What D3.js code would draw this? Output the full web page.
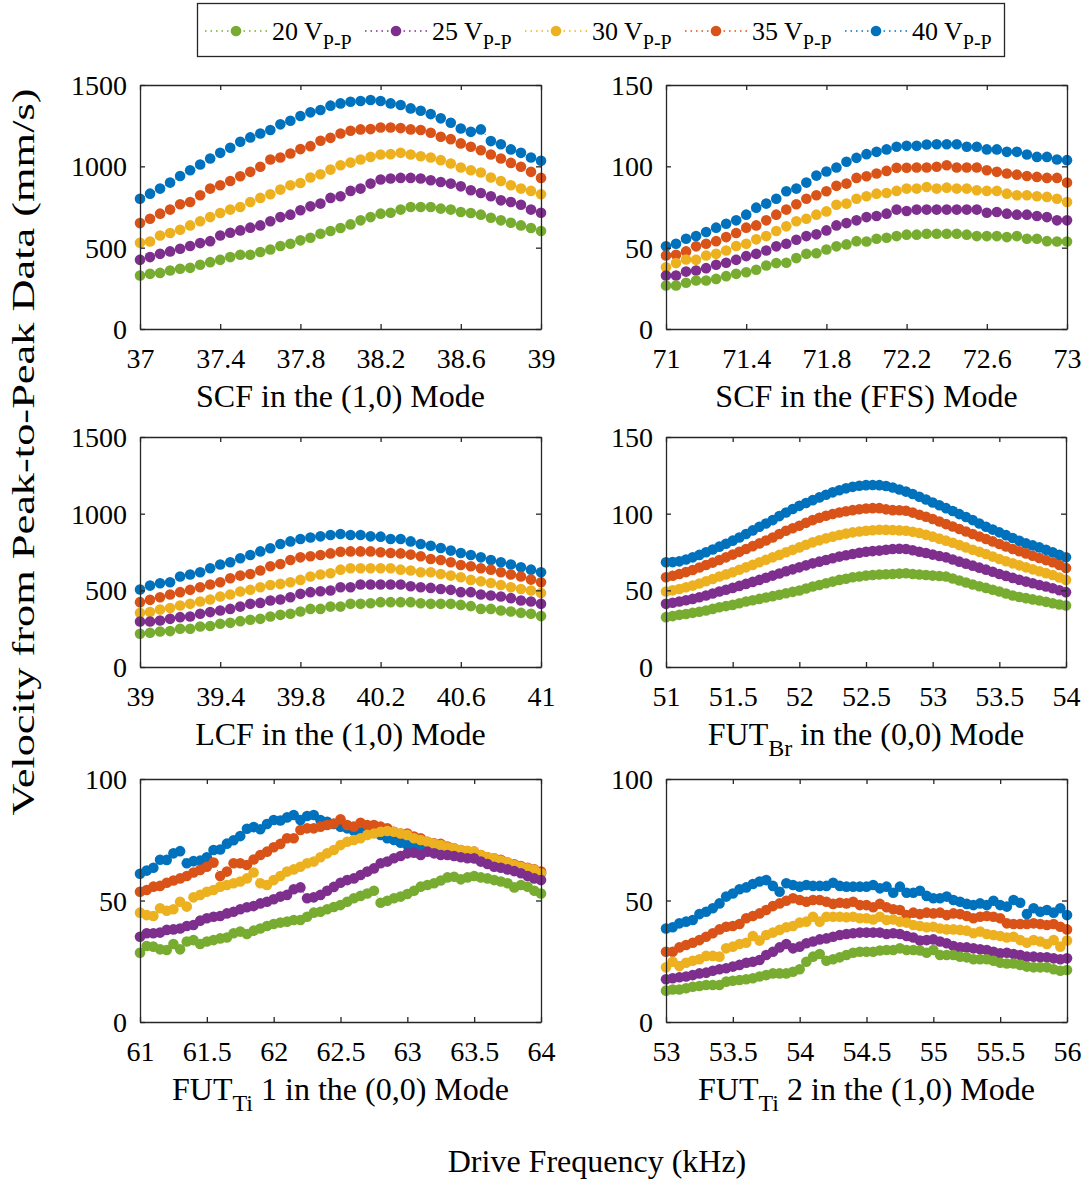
<!DOCTYPE html>
<html>
<head>
<meta charset="utf-8">
<script src="https://cdn.jsdelivr.net/npm/d3@7"></script>
<style>
  body { margin: 0; background: #fff; }
  text { font-family: "Liberation Serif", "Times New Roman", serif; fill: #000; }
</style>
</head>
<body>
<div id="viz"></div>
<script>
const width = 1085, height = 1182;

// series (drive amplitude) and MATLAB default colours
const voltages = ["20", "25", "30", "35", "40"];
const colors = ["#77AC30", "#7E2F8E", "#EDB120", "#D95319", "#0072BD"];

// frequency sweep grids, kHz
const scf10Freq = d3.range(41).map(i => 37 + i * 0.05);
const scfFfsFreq = d3.range(41).map(i => 71 + i * 0.05);
const lcf10Freq = d3.range(41).map(i => 39 + i * 0.05);
const futBrFreq = d3.range(61).map(i => 51 + i * 0.05);
const futTi1Freq = d3.range(61).map(i => 61 + i * 0.05);
const futTi2Freq = d3.range(61).map(i => 53 + i * 0.05);

// SCF (1,0) mode, mm/s
const scf10_20 = [329,339,345,360,370,376,395,411,425,442,456,456,473,489,510,524,545,561,586,602,621,643,668,688,709,715,734,750,750,750,740,734,719,713,703,684,668,653,637,621,602];
const scf10_25 = [425,442,462,477,493,510,528,540,575,592,606,623,637,662,688,703,730,754,771,806,816,849,863,894,919,925,929,929,925,914,904,894,877,853,836,816,791,781,764,734,715];
const scf10_30 = [530,538,575,590,610,637,662,688,713,734,750,781,806,828,857,884,898,931,951,980,1007,1023,1042,1058,1073,1075,1083,1073,1062,1054,1038,1017,993,976,962,931,910,884,863,849,828];
const scf10_35 = [651,678,709,734,767,781,822,863,884,910,939,966,997,1042,1054,1079,1106,1124,1157,1175,1202,1219,1227,1229,1239,1239,1235,1227,1223,1206,1182,1167,1141,1120,1099,1073,1048,1021,997,966,929];
const scf10_40 = [801,832,863,900,941,976,1011,1048,1083,1114,1151,1178,1202,1223,1258,1280,1309,1332,1346,1373,1387,1397,1402,1408,1402,1387,1377,1356,1342,1321,1295,1268,1233,1212,1227,1155,1136,1104,1083,1054,1034];

// SCF (FFS) mode
const scfFfs_20 = [26.7,26.7,28.4,29.8,29.8,30.8,32.5,33.9,34.9,36.4,39.0,40.5,40.7,43.6,46.2,46.6,48.9,50.8,52.0,54.0,53.8,55.5,56.1,57.1,58.0,58.0,58.6,58.6,58.6,58.6,58.0,57.1,57.1,57.1,56.5,57.1,55.5,55.5,54.0,53.8,53.8];
const scfFfs_25 = [32.9,32.9,35.3,36.0,37.4,39.5,40.7,42.5,44.8,46.2,48.3,50.8,52.4,54.9,57.1,58.2,60.6,63.7,65.1,66.8,68.8,69.5,70.9,73.4,72.5,73.4,73.4,73.4,73.4,73.4,73.4,73.4,71.5,71.9,70.9,70.3,70.3,69.5,68.8,66.8,66.8];
const scfFfs_30 = [38.0,40.5,42.7,42.5,45.2,46.2,48.3,51.0,52.4,55.1,57.1,60.2,63.1,66.2,67.8,70.3,72.3,76.4,77.1,80.1,81.6,83.2,83.6,84.9,86.3,86.3,87.3,86.3,86.9,86.3,86.3,85.3,84.9,84.9,83.2,82.2,82.2,81.6,81.2,80.1,78.1];
const scfFfs_35 = [45.2,45.6,47.7,50.8,52.4,54.0,56.5,59.0,62.3,63.7,66.8,70.3,73.4,76.7,80.1,82.2,84.7,88.0,89.4,92.9,93.9,95.6,97.2,99.1,99.1,99.3,99.3,99.7,100.7,99.3,99.3,99.3,97.6,96.6,95.6,94.9,94.1,93.5,92.9,92.9,90.0];
const scfFfs_40 = [50.8,52.4,55.5,57.1,59.6,62.3,64.7,66.8,70.3,74.6,77.1,80.1,84.7,86.3,90.0,94.3,96.8,99.3,102.8,105.2,107.5,108.9,110.4,112.0,112.6,112.6,113.4,113.6,113.6,113.6,112.0,112.0,110.4,110.4,108.9,108.9,107.3,105.8,105.8,104.2,103.8];

// LCF (1,0) mode
const lcf10_20 = [217,223,232,234,249,249,264,267,282,288,299,308,314,329,340,347,362,379,379,394,394,412,412,416,423,423,423,423,416,412,412,412,405,397,379,379,368,362,353,347,332];
const lcf10_25 = [297,297,303,314,325,329,347,358,368,379,394,412,418,434,440,455,477,488,494,499,520,520,538,538,538,538,538,527,520,516,509,503,488,488,473,466,460,449,434,427,412];
const lcf10_30 = [353,358,375,384,401,412,427,440,460,473,492,503,520,535,542,553,568,590,603,611,635,644,644,644,644,644,635,629,618,618,607,596,585,568,559,548,535,520,509,499,483];
const lcf10_35 = [423,438,455,473,488,503,520,538,553,579,596,607,629,657,672,698,715,722,730,741,752,754,754,754,748,743,741,733,722,704,698,683,665,657,644,635,618,603,590,570,553];
const lcf10_40 = [505,531,546,553,590,603,618,644,668,683,709,730,754,774,802,819,835,845,852,861,867,861,861,852,850,835,835,819,802,791,776,759,743,730,715,698,683,668,650,635,618];

// FUT_Br (0,0) mode
const futBr_20 = [32.5,33.2,34.0,34.6,35.3,36.0,36.8,37.9,39.0,39.7,40.5,41.6,42.7,43.5,44.4,45.3,46.2,47.1,48.1,49.0,49.9,51.2,52.5,53.5,54.6,55.7,56.8,57.6,58.5,59.0,59.6,60.0,60.3,60.5,60.7,60.9,61.1,60.7,60.3,60.0,59.6,59.3,59.0,57.7,56.4,55.1,53.8,52.7,51.6,50.4,49.2,47.9,46.6,45.7,44.9,44.1,43.4,42.5,41.6,40.8,40.1];
const futBr_25 = [41.2,41.9,42.7,43.5,44.4,45.5,46.6,47.9,49.2,50.4,51.6,52.9,54.2,55.5,56.8,58.2,59.6,61.0,62.4,63.7,65.0,66.3,67.6,68.7,69.8,70.9,72.0,72.9,73.7,74.5,75.2,75.6,75.9,76.5,77.0,77.1,77.0,76.1,75.2,74.3,73.3,72.4,71.5,70.1,68.7,67.4,66.1,64.8,63.5,62.1,60.7,59.4,58.1,56.9,55.7,54.6,53.5,52.5,51.4,50.1,48.8];
const futBr_30 = [49.2,50.0,50.9,52.0,53.1,54.5,55.9,57.4,59.0,60.4,61.8,63.4,65.0,66.6,68.3,69.9,71.5,73.1,74.8,76.4,78.0,79.7,81.3,82.6,83.9,85.0,86.1,87.0,87.8,88.4,88.9,89.2,89.5,89.4,89.3,89.1,88.9,88.2,87.4,86.2,85.0,83.7,82.4,81.0,79.5,78.0,76.5,75.1,73.7,72.0,70.4,69.0,67.6,66.3,65.0,63.7,62.4,61.2,60.0,58.4,56.8];
const futBr_35 = [58.5,59.5,60.7,61.9,63.3,64.9,66.5,68.1,69.8,71.5,73.3,75.1,77.0,78.8,80.6,82.5,84.5,86.7,88.9,90.5,92.1,94.0,95.8,97.3,98.6,99.8,100.8,101.6,102.3,102.9,103.4,103.6,103.6,102.8,102.3,102.2,101.9,100.7,99.3,98.0,96.5,94.9,93.2,91.6,90.0,88.4,86.7,85.1,83.5,81.9,80.2,78.6,77.0,75.5,74.1,72.6,71.1,69.7,68.3,66.5,64.6];
const futBr_40 = [68.3,68.4,68.9,70.1,71.5,73.1,74.8,76.6,78.5,80.4,82.4,84.5,86.7,89.1,91.5,93.6,95.8,98.4,100.8,103.0,105.1,107.0,108.8,110.6,112.3,113.9,115.3,116.5,117.5,118.2,118.6,118.7,118.6,118.0,117.1,115.8,114.4,112.8,111.0,109.2,107.3,105.5,103.6,101.7,99.7,97.8,95.8,93.6,91.5,89.6,87.8,86.0,84.1,82.3,80.6,79.3,78.0,76.4,74.8,73.1,71.5];

// FUT_Ti 1, (0,0) mode
const futTi1_20 = [28.5,31.3,31.0,29.9,29.6,32.1,29.9,33.1,33.7,32.1,33.1,33.7,34.4,34.8,36.5,37.2,36.2,37.6,38.5,39.5,40.3,40.9,41.3,42.0,42.0,43.3,45.0,45.4,46.4,47.3,48.1,49.5,50.9,51.9,52.9,54.0,49.1,49.9,50.9,51.6,52.7,54.0,55.7,56.4,57.1,58.2,59.5,59.8,58.7,59.5,60.1,59.5,59.1,58.4,57.8,57.1,55.4,56.4,55.7,54.0,52.9];
const futTi1_25 = [35.1,36.5,36.5,36.8,37.9,38.1,38.5,39.5,39.9,41.7,42.7,43.3,43.6,44.7,45.4,46.4,47.2,47.7,48.8,49.5,50.5,51.6,52.3,54.6,55.4,50.9,51.3,52.3,54.0,55.6,57.3,58.4,59.1,60.5,61.9,63.2,65.3,66.0,67.4,68.3,69.4,69.7,68.7,70.1,69.4,68.7,68.7,68.3,67.8,67.4,67.4,66.0,65.0,63.9,63.5,62.8,62.1,61.2,60.1,59.1,58.4];
const futTi1_30 = [45.0,44.0,43.6,46.8,45.8,46.4,49.5,47.5,51.3,52.3,53.6,54.3,55.7,56.4,57.1,57.8,59.1,61.5,57.1,56.4,58.4,60.1,61.9,62.8,63.9,65.3,66.0,67.8,69.4,70.8,72.8,74.2,74.9,75.6,77.0,77.6,78.3,78.6,78.3,77.6,77.0,75.6,74.9,74.2,73.3,72.8,71.9,71.5,70.8,70.5,70.1,68.7,67.8,67.4,66.4,65.6,64.6,63.9,63.2,62.6,61.2];
const futTi1_35 = [53.6,54.3,55.7,56.0,57.3,58.2,59.1,60.1,61.5,62.6,63.9,65.6,60.1,61.9,65.3,65.3,64.6,66.9,68.7,70.1,71.9,73.3,75.6,75.6,79.0,79.7,79.7,80.4,81.1,81.7,83.4,81.1,80.4,82.0,81.1,81.1,80.4,79.7,78.3,77.6,77.6,76.3,75.6,74.2,73.5,73.3,72.2,71.5,70.8,70.1,70.1,68.7,67.8,67.4,66.7,65.6,64.9,64.2,63.5,62.8,61.9];
const futTi1_40 = [61.0,62.3,63.5,66.8,66.7,69.4,70.3,65.3,66.2,66.4,67.8,70.8,71.0,73.4,74.8,76.5,79.5,80.2,79.3,81.5,83.1,82.9,84.2,85.2,83.1,84.8,85.2,83.1,82.4,81.5,80.4,79.7,78.7,78.3,78.7,78.6,77.0,75.6,74.9,73.8,72.8,71.9,71.1,70.5,70.1,69.7,69.1,68.7,68.3,67.8,67.4,66.7,66.0,65.3,64.9,64.3,63.6,63.0,62.6,61.9,61.2];

// FUT_Ti 2, (1,0) mode
const futTi2_20 = [12.9,13.4,13.4,13.9,14.5,14.8,15.2,15.2,15.2,16.6,17.0,17.3,17.6,18.0,18.7,19.3,20.0,20.0,20.0,20.7,21.7,24.8,26.9,28.0,25.2,25.8,26.6,27.6,28.5,28.9,28.9,28.9,29.4,29.6,29.6,30.3,29.6,29.6,29.4,28.5,29.6,27.6,27.6,27.6,26.9,26.6,25.8,25.8,25.8,25.2,24.4,24.1,24.1,23.5,22.8,22.5,22.5,22.5,21.7,21.1,21.4];
const futTi2_25 = [17.6,18.0,18.4,18.7,19.3,20.0,20.3,21.1,21.7,22.1,22.8,23.5,24.4,24.8,25.5,27.6,28.9,30.7,32.1,30.3,31.0,32.4,33.1,34.0,34.4,35.1,35.8,36.2,36.5,36.8,36.8,36.8,36.8,36.2,36.5,36.2,35.4,34.8,33.5,33.7,34.0,33.1,32.4,31.3,30.7,30.7,30.3,29.9,29.6,28.9,28.3,28.5,28.0,27.6,26.9,26.9,26.6,26.6,26.2,25.8,26.2];
const futTi2_30 = [22.5,24.8,23.0,24.4,25.2,25.8,27.2,27.2,26.9,30.3,31.0,32.1,32.6,35.4,33.5,35.8,36.8,37.9,39.0,39.5,40.9,41.3,43.3,41.3,43.3,43.3,43.3,43.1,43.3,42.7,42.7,42.2,43.3,42.0,42.2,41.3,40.9,39.9,39.5,39.0,39.2,38.5,38.1,38.1,37.9,37.6,36.5,37.2,36.2,35.8,35.4,34.8,35.1,33.7,32.6,33.7,33.1,32.1,33.7,31.0,33.5];
const futTi2_35 = [28.9,28.9,30.7,31.7,32.6,33.7,35.1,36.5,38.1,39.2,39.5,40.3,42.7,43.6,44.7,46.1,47.7,48.8,49.9,50.9,50.2,49.5,50.2,50.2,49.5,48.6,49.1,48.8,49.5,48.1,48.1,47.2,48.6,47.2,46.4,46.1,44.0,45.0,44.4,45.0,44.7,45.0,44.0,44.7,44.4,43.6,42.7,43.3,43.6,43.3,42.7,40.6,40.3,40.3,40.3,40.6,40.3,39.9,40.3,39.2,38.1];
const futTi2_40 = [38.5,39.0,40.6,41.3,42.0,44.4,45.4,46.8,48.8,51.6,52.9,54.6,55.4,56.8,57.8,58.4,56.0,53.6,57.1,56.4,55.7,56.4,56.0,56.0,56.0,57.3,56.0,55.7,55.7,55.7,55.7,56.4,55.0,55.7,53.2,55.7,53.2,53.2,54.0,51.9,50.9,50.9,51.6,50.2,49.5,48.6,48.1,48.8,48.1,49.9,48.1,47.5,50.2,49.1,44.4,46.8,45.4,46.1,45.0,46.8,44.0];

// tick values
const scf10Ticks = [37, 37.4, 37.8, 38.2, 38.6, 39];
const scfFfsTicks = [71, 71.4, 71.8, 72.2, 72.6, 73];
const lcf10Ticks = [39, 39.4, 39.8, 40.2, 40.6, 41];
const futBrTicks = [51, 51.5, 52, 52.5, 53, 53.5, 54];
const futTi1Ticks = [61, 61.5, 62, 62.5, 63, 63.5, 64];
const futTi2Ticks = [53, 53.5, 54, 54.5, 55, 55.5, 56];
const yTicks1500 = [0, 500, 1000, 1500];
const yTicks150 = [0, 50, 100, 150];
const yTicks100 = [0, 50, 100];

const panels = [
  { freq: scf10Freq, values: [scf10_20, scf10_25, scf10_30, scf10_35, scf10_40],
    xTicks: scf10Ticks, yMax: 1500, yTicks: yTicks1500,
    left: 140, right: 541, top: 85, bottom: 329, label: ["SCF in the (1,0) Mode"] },
  { freq: scfFfsFreq, values: [scfFfs_20, scfFfs_25, scfFfs_30, scfFfs_35, scfFfs_40],
    xTicks: scfFfsTicks, yMax: 150, yTicks: yTicks150,
    left: 666, right: 1067, top: 85, bottom: 329, label: ["SCF in the (FFS) Mode"] },
  { freq: lcf10Freq, values: [lcf10_20, lcf10_25, lcf10_30, lcf10_35, lcf10_40],
    xTicks: lcf10Ticks, yMax: 1500, yTicks: yTicks1500,
    left: 140, right: 541, top: 437, bottom: 667, label: ["LCF in the (1,0) Mode"] },
  { freq: futBrFreq, values: [futBr_20, futBr_25, futBr_30, futBr_35, futBr_40],
    xTicks: futBrTicks, yMax: 150, yTicks: yTicks150,
    left: 666, right: 1066, top: 437, bottom: 667, label: ["FUT", "Br", " in the (0,0) Mode"] },
  { freq: futTi1Freq, values: [futTi1_20, futTi1_25, futTi1_30, futTi1_35, futTi1_40],
    xTicks: futTi1Ticks, yMax: 100, yTicks: yTicks100,
    left: 140, right: 541, top: 779, bottom: 1022, label: ["FUT", "Ti", " 1 in the (0,0) Mode"] },
  { freq: futTi2Freq, values: [futTi2_20, futTi2_25, futTi2_30, futTi2_35, futTi2_40],
    xTicks: futTi2Ticks, yMax: 100, yTicks: yTicks100,
    left: 666, right: 1067, top: 779, bottom: 1022, label: ["FUT", "Ti", " 2 in the (1,0) Mode"] }
];

const svg = d3.select("#viz").append("svg")
  .attr("width", width)
  .attr("height", height);

const axisColor = "#262626";
const tickFont = 28, labelFont = 32;

function styleAxis(g) {
  g.select(".domain").attr("stroke", axisColor).attr("stroke-width", 1.3);
  g.selectAll(".tick line").attr("stroke", axisColor).attr("stroke-width", 1.3);
  g.selectAll("text").attr("font-size", tickFont).attr("fill", "#000")
    .style("font-family", "'Liberation Serif', serif");
}

panels.forEach(p => {
  const fr = p.freq;
  const x = d3.scaleLinear().domain([fr[0], fr[fr.length - 1]]).range([p.left, p.right]);
  const y = d3.scaleLinear().domain([0, p.yMax]).range([p.bottom, p.top]);
  const g = svg.append("g");

  // dotted lines + markers, 40 V drawn first
  d3.range(4, -1, -1).forEach(s => {
    const pts = fr.map((f, i) => [f, p.values[s][i]]);
    g.append("path")
      .attr("d", d3.line().x(d => x(d[0])).y(d => y(d[1]))(pts))
      .attr("fill", "none")
      .attr("stroke", colors[s])
      .attr("stroke-width", 1)
      .attr("stroke-dasharray", "1,3");
    g.selectAll(null).data(pts).enter().append("circle")
      .attr("cx", d => x(d[0]))
      .attr("cy", d => y(d[1]))
      .attr("r", 5.3)
      .attr("fill", colors[s]);
  });

  // box with inward ticks on all sides
  g.append("g").attr("transform", `translate(0,${p.bottom})`)
    .call(d3.axisBottom(x).tickValues(p.xTicks).tickSizeInner(-5).tickSizeOuter(0).tickFormat(d3.format("~g")))
    .call(styleAxis)
    .call(a => a.selectAll("text").attr("dy", null).attr("y", 39));
  g.append("g").attr("transform", `translate(0,${p.top})`)
    .call(d3.axisTop(x).tickValues(p.xTicks).tickSizeInner(-5).tickSizeOuter(0).tickFormat(""))
    .call(styleAxis);
  g.append("g").attr("transform", `translate(${p.left},0)`)
    .call(d3.axisLeft(y).tickValues(p.yTicks).tickSizeInner(-5).tickSizeOuter(0).tickFormat(d3.format("d")))
    .call(styleAxis)
    .call(a => a.selectAll("text").attr("x", -13).attr("dy", "0.34em"));
  g.append("g").attr("transform", `translate(${p.right},0)`)
    .call(d3.axisRight(y).tickValues(p.yTicks).tickSizeInner(-5).tickSizeOuter(0).tickFormat(""))
    .call(styleAxis);

  // panel label, with optional subscript
  const t = g.append("text")
    .attr("x", (p.left + p.right) / 2)
    .attr("y", p.bottom + 78)
    .attr("text-anchor", "middle")
    .attr("font-size", labelFont);
  t.append("tspan").text(p.label[0]);
  if (p.label.length > 1) {
    t.append("tspan").attr("font-size", 24).attr("dy", 11).text(p.label[1]);
    t.append("tspan").attr("dy", -11).text(p.label[2]);
  }
});

// shared axis labels
svg.append("text")
  .attr("transform", "translate(34,452) rotate(-90)")
  .attr("text-anchor", "middle")
  .attr("font-size", 32)
  .attr("textLength", 727)
  .attr("lengthAdjust", "spacingAndGlyphs")
  .text("Velocity from Peak-to-Peak Data (mm/s)");

svg.append("text")
  .attr("x", 597)
  .attr("y", 1172)
  .attr("text-anchor", "middle")
  .attr("font-size", 32)
  .text("Drive Frequency (kHz)");

// legend
const legend = svg.append("g");
legend.append("rect")
  .attr("x", 197.5).attr("y", 3.5)
  .attr("width", 807).attr("height", 53)
  .attr("fill", "#fff")
  .attr("stroke", axisColor)
  .attr("stroke-width", 1.3);

voltages.forEach((v, i) => {
  const item = legend.append("g").attr("transform", `translate(${205 + i * 160},0)`);
  item.append("line")
    .attr("x1", 0).attr("x2", 62).attr("y1", 31).attr("y2", 31)
    .attr("stroke", colors[i]).attr("stroke-width", 1.5)
    .attr("stroke-dasharray", "1.5,4");
  item.append("circle")
    .attr("cx", 31).attr("cy", 31).attr("r", 5.3)
    .attr("fill", colors[i]);
  const t = item.append("text")
    .attr("x", 67).attr("y", 40)
    .attr("font-size", 26);
  t.append("tspan").text(`${v} V`);
  t.append("tspan").attr("font-size", 20).attr("dy", 9).text("P-P");
});
</script>
</body>
</html>
